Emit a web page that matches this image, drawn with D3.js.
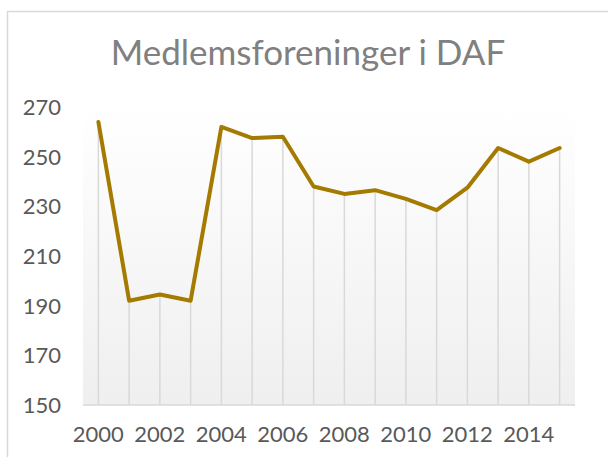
<!DOCTYPE html>
<html lang="da">
<head>
  <meta charset="utf-8">
  <title>Medlemsforeninger i DAF</title>
  <script src="https://d3js.org/d3.v7.min.js"></script>
  <style>
    body { margin: 0; background: #fff; }
    #chart text { font-family: "Lato", "Open Sans", sans-serif; }
  </style>
</head>
<body>
  <div id="chart"></div>
  <script>
    "use strict"

    var years = ["2000","2001","2002","2003","2004","2005","2006","2007",
                 "2008","2009","2010","2011","2012","2013","2014","2015"];
    var members = [264, 192, 194.5, 192, 262, 257.5, 258, 238,
                   235, 236.5, 233, 228.5, 237.5, 253.5, 248, 253.5];
    var yTicks = [150, 170, 190, 210, 230, 250, 270];
    var xLabels = ["2000","2002","2004","2006","2008","2010","2012","2014"];

    var width = 608, height = 457;
    var plot = { left: 83, right: 575, top: 107, bottom: 405 };

    var svg = d3.select('#chart').append('svg')
      .attr('width', width)
      .attr('height', height);

    // chart frame (only left and top edges are inside the picture)
    svg.append('path')
      .attr('d', 'M7.5,' + height + 'V11.5H' + width)
      .attr('fill', 'none')
      .attr('stroke', '#d9d9d9')
      .attr('stroke-width', 1.5);

    var grad = svg.append('defs').append('linearGradient')
      .attr('id', 'bg').attr('x1', 0).attr('y1', 0).attr('x2', 0).attr('y2', 1);
    grad.append('stop').attr('offset', '0%').attr('stop-color', '#ffffff');
    grad.append('stop').attr('offset', '100%').attr('stop-color', '#efefef');

    svg.append('rect')
      .attr('x', plot.left).attr('y', plot.top)
      .attr('width', plot.right - plot.left)
      .attr('height', plot.bottom - plot.top)
      .attr('fill', 'url(#bg)');

    var x = d3.scaleBand().domain(years).range([plot.left, plot.right]).padding(0);
    var cx = d => x(d) + x.bandwidth() / 2;
    var y = d3.scaleLinear().domain([150, 270]).range([plot.bottom, plot.top]);

    var data = years.map((yr, i) => ({ year: yr, value: members[i] }));

    // drop lines
    svg.selectAll('line.drop')
      .data(data)
      .enter().append('line')
        .attr('class', 'drop')
        .attr('x1', d => cx(d.year)).attr('x2', d => cx(d.year))
        .attr('y1', d => y(d.value)).attr('y2', plot.bottom)
        .attr('stroke', '#d9d9d9')
        .attr('stroke-width', 1.5);

    // bottom axis line
    svg.append('line')
      .attr('x1', plot.left).attr('x2', plot.right)
      .attr('y1', plot.bottom).attr('y2', plot.bottom)
      .attr('stroke', '#d9d9d9')
      .attr('stroke-width', 1.5);

    // y labels
    svg.selectAll('text.ytick')
      .data(yTicks)
      .enter().append('text')
        .attr('class', 'ytick')
        .attr('x', 61)
        .attr('y', d => y(d))
        .attr('dy', '0.36em')
        .attr('text-anchor', 'end')
        .attr('fill', '#595959')
        .style('font-size', '22px')
        .text(d => d);

    // x labels
    svg.selectAll('text.xtick')
      .data(xLabels)
      .enter().append('text')
        .attr('class', 'xtick')
        .attr('x', d => cx(d))
        .attr('y', 442)
        .attr('text-anchor', 'middle')
        .attr('fill', '#595959')
        .style('font-size', '22px')
        .text(d => d);

    // line
    var line = d3.line().x(d => cx(d.year)).y(d => y(d.value));
    svg.append('path')
      .datum(data)
      .attr('d', line)
      .attr('fill', 'none')
      .attr('stroke', '#a57a00')
      .attr('stroke-width', 4)
      .attr('stroke-linejoin', 'round')
      .attr('stroke-linecap', 'round');

    // title
    svg.append('text')
      .attr('x', 308)
      .attr('y', 65)
      .attr('text-anchor', 'middle')
      .attr('fill', '#808080')
      .style('font-size', '35px')
      .text('Medlemsforeninger i DAF');
  </script>
</body>
</html>
